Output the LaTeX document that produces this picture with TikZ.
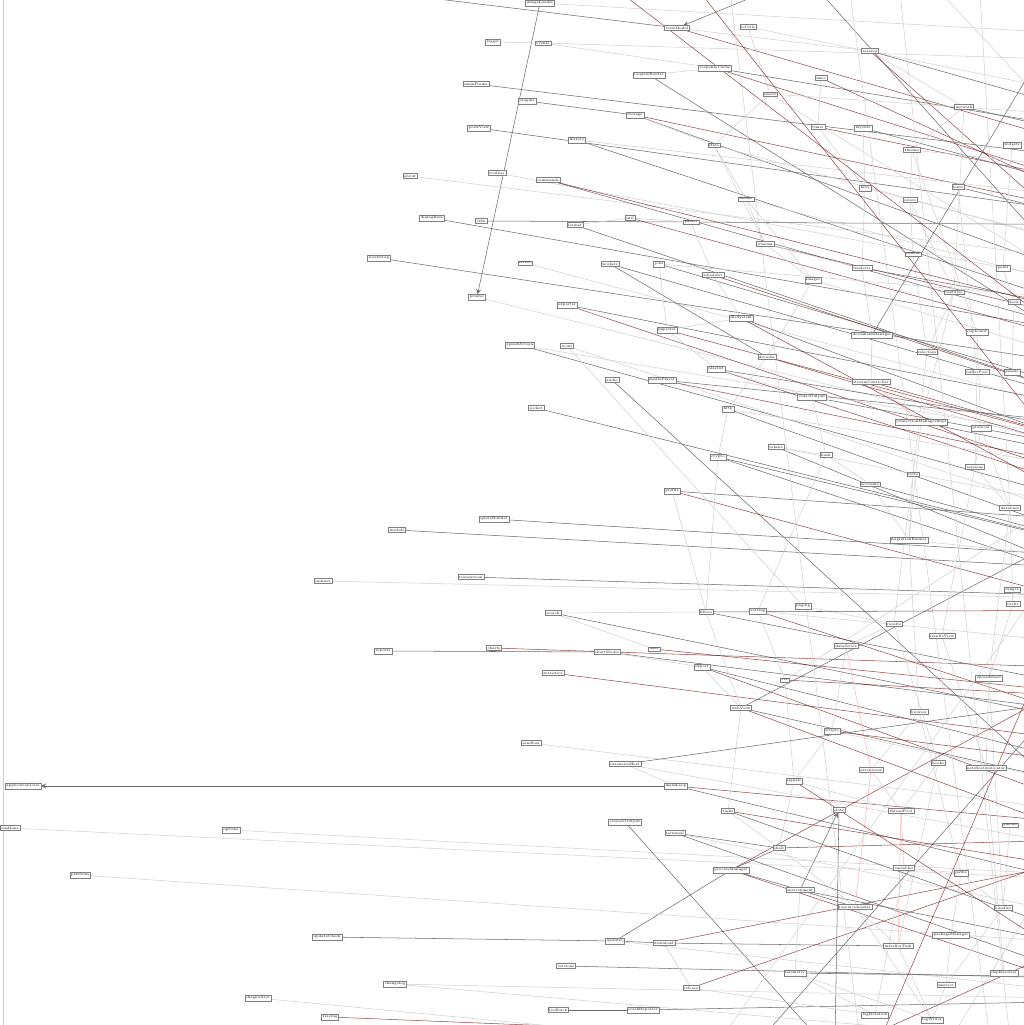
\documentclass[tikz,border=0pt]{standalone}
\usepackage{tikz}
\usetikzlibrary{backgrounds}
\tikzset{
  % node style (one box per module)
  modbox/.style={draw=black!50,line width=0.15pt,fill=white,inner sep=0.7pt,
    font=\fontsize{2}{2.4}\selectfont},
  % edge styles
  lite/.style={draw=black!18,line width=0.3pt},
  dark/.style={draw=black!58,line width=0.3pt},
  redd/.style={draw=red!40!black,opacity=0.7,line width=0.3pt},
  pink/.style={draw=red!30,line width=0.3pt},
}

\begin{document}
\begin{tikzpicture}[x=0.02cm,y=-0.02cm,>=stealth]
  \useasboundingbox (0,0) rectangle (1024,1025);
  % modules
  \node[modbox] (v1) at (540,3) {imageLoader};
  \node[modbox] (v2) at (677,28) {viewModel};
  \node[modbox] (v3) at (748,27) {ioUtils};
  \node[modbox] (v4) at (493,42) {logger};
  \node[modbox] (v5) at (543,43) {events};
  \node[modbox] (v6) at (870,51) {session};
  \node[modbox] (v7) at (649,75) {requestRouter};
  \node[modbox] (v8) at (715,68) {responseCache};
  \node[modbox] (v9) at (821,78) {misc};
  \node[modbox] (v10) at (476,84) {mainFrame};
  \node[modbox] (v11) at (527,101) {plugins};
  \node[modbox] (v12) at (770,94) {assets};
  \node[modbox] (v13) at (635,115) {storage};
  \node[modbox] (v14) at (964,107) {network};
  \node[modbox] (v15) at (479,128) {prefsView};
  \node[modbox] (v16) at (577,140) {history};
  \node[modbox] (v17) at (714,145) {state};
  \node[modbox] (v18) at (818,127) {timer};
  \node[modbox] (v19) at (863,128) {layouts};
  \node[modbox] (v20) at (912,150) {themes};
  \node[modbox] (v21) at (497,173) {toolbar};
  \node[modbox] (v22) at (410,176) {about};
  \node[modbox] (v23) at (548,180) {commands};
  \node[modbox] (v24) at (865,188) {keys};
  \node[modbox] (v25) at (958,187) {fonts};
  \node[modbox] (v26) at (910,200) {colors};
  \node[modbox] (v27) at (746,199) {menus};
  \node[modbox] (v28) at (432,218) {dialogBase};
  \node[modbox] (v29) at (481,221) {i18n};
  \node[modbox] (v30) at (630,218) {util};
  \node[modbox] (v31) at (575,225) {format};
  \node[modbox] (v32) at (691,222) {parser};
  \node[modbox] (v33) at (765,244) {schema};
  \node[modbox] (v34) at (379,258) {bootstrap};
  \node[modbox] (v35) at (525,263) {errors};
  \node[modbox] (v36) at (610,264) {workers};
  \node[modbox] (v37) at (659,264) {jobs};
  \node[modbox] (v38) at (713,275) {scheduler};
  \node[modbox] (v39) at (862,268) {renderer};
  \node[modbox] (v40) at (913,254) {canvas};
  \node[modbox] (v41) at (1003,268) {paint};
  \node[modbox] (v42) at (813,280) {images};
  \node[modbox] (v43) at (954,292) {textures};
  \node[modbox] (v44) at (477,297) {printer};
  \node[modbox] (v45) at (567,305) {exporter};
  \node[modbox] (v46) at (667,330) {importer};
  \node[modbox] (v47) at (741,318) {fileSystem};
  \node[modbox] (v48) at (872,335) {documentManager};
  \node[modbox] (v49) at (977,332) {clipboard};
  \node[modbox] (v50) at (927,352) {selection};
  \node[modbox] (v51) at (520,345) {splashScreen};
  \node[modbox] (v52) at (567,346) {icons};
  \node[modbox] (v53) at (612,380) {audio};
  \node[modbox] (v54) at (662,380) {mediaPlayer};
  \node[modbox] (v55) at (716,369) {playlist};
  \node[modbox] (v56) at (767,357) {decoder};
  \node[modbox] (v57) at (871,382) {streamController};
  \node[modbox] (v58) at (977,372) {bufferPool};
  \node[modbox] (v59) at (812,397) {videoOutput};
  \node[modbox] (v60) at (536,408) {socket};
  \node[modbox] (v61) at (728,409) {http};
  \node[modbox] (v62) at (921,422) {connectionManagerImpl};
  \node[modbox] (v63) at (981,428) {protocol};
  \node[modbox] (v64) at (776,447) {tokens};
  \node[modbox] (v65) at (718,457) {crypto};
  \node[modbox] (v66) at (826,455) {hash};
  \node[modbox] (v67) at (913,474) {certs};
  \node[modbox] (v68) at (975,467) {sessions};
  \node[modbox] (v69) at (870,484) {accounts};
  \node[modbox] (v70) at (672,491) {profile};
  \node[modbox] (v71) at (1010,508) {database};
  \node[modbox] (v72) at (494,519) {queryBuilder};
  \node[modbox] (v73) at (397,530) {models};
  \node[modbox] (v74) at (909,540) {migrationRunner};
  \node[modbox] (v75) at (471,577) {transaction};
  \node[modbox] (v76) at (323,581) {indexer};
  \node[modbox] (v77) at (553,613) {search};
  \node[modbox] (v78) at (706,612) {filters};
  \node[modbox] (v79) at (758,611) {sorting};
  \node[modbox] (v80) at (803,606) {paging};
  \node[modbox] (v81) at (894,624) {results};
  \node[modbox] (v82) at (942,636) {resultsView};
  \node[modbox] (v83) at (1013,604) {cache};
  \node[modbox] (v84) at (383,651) {reports};
  \node[modbox] (v85) at (494,648) {charts};
  \node[modbox] (v86) at (607,652) {chartModel};
  \node[modbox] (v87) at (654,649) {axes};
  \node[modbox] (v88) at (846,646) {dataSeries};
  \node[modbox] (v89) at (553,673) {statistics};
  \node[modbox] (v90) at (702,667) {export};
  \node[modbox] (v91) at (785,680) {csv};
  \node[modbox] (v92) at (989,678) {spreadsheet};
  \node[modbox] (v93) at (741,708) {webView};
  \node[modbox] (v94) at (919,712) {browser};
  \node[modbox] (v95) at (832,731) {scripts};
  \node[modbox] (v96) at (531,743) {sandbox};
  \node[modbox] (v97) at (625,764) {extensionHost};
  \node[modbox] (v98) at (871,770) {extensions};
  \node[modbox] (v99) at (938,763) {hooks};
  \node[modbox] (v100) at (986,768) {notificationCenter};
  \node[modbox] (v101) at (23,786) {applicationCore};
  \node[modbox] (v102) at (676,786) {mainLoop};
  \node[modbox] (v103) at (794,781) {signals};
  \node[modbox] (v104) at (839,810) {slots};
  \node[modbox] (v105) at (728,811) {tasks};
  \node[modbox] (v106) at (901,811) {threadPool};
  \node[modbox] (v107) at (10,828) {cmdLine};
  \node[modbox] (v108) at (231,830) {options};
  \node[modbox] (v109) at (625,822) {consoleOutput};
  \node[modbox] (v110) at (675,833) {terminal};
  \node[modbox] (v111) at (779,848) {shell};
  \node[modbox] (v112) at (731,870) {processManager};
  \node[modbox] (v113) at (80,875) {platform};
  \node[modbox] (v114) at (800,890) {environment};
  \node[modbox] (v115) at (904,868) {variables};
  \node[modbox] (v116) at (961,873) {paths};
  \node[modbox] (v117) at (855,907) {resourceLoader};
  \node[modbox] (v118) at (1003,908) {bundles};
  \node[modbox] (v119) at (327,937) {updateCheck};
  \node[modbox] (v120) at (615,941) {updater};
  \node[modbox] (v121) at (664,943) {download};
  \node[modbox] (v122) at (898,946) {installerTask};
  \node[modbox] (v123) at (951,935) {packageManager};
  \node[modbox] (v124) at (1004,973) {depResolver};
  \node[modbox] (v125) at (566,966) {versions};
  \node[modbox] (v126) at (395,984) {changelog};
  \node[modbox] (v127) at (691,988) {release};
  \node[modbox] (v128) at (795,973) {telemetry};
  \node[modbox] (v129) at (946,985) {metrics};
  \node[modbox] (v130) at (558,1010) {feedback};
  \node[modbox] (v131) at (643,1010) {crashReporter};
  \node[modbox] (v132) at (258,998) {diagnostics};
  \node[modbox] (v133) at (330,1017) {tracing};
  \node[modbox] (v134) at (932,1020) {logWriter};
  \node[modbox] (v135) at (875,1015) {logRotation};
  \node[modbox] (v136) at (1012,145) {widgets};
  \node[modbox] (v137) at (1014,302) {dock};
  \node[modbox] (v138) at (1012,372) {panels};
  \node[modbox] (v139) at (1012,590) {ranges};
  \node[modbox] (v140) at (1010,825) {queues};
  % free ends outside the frame
  \coordinate (t1) at (380,-8);
  \coordinate (t2) at (765,-8);
  \coordinate (t3) at (3,-8);
  \coordinate (t4) at (700,-8);
  \coordinate (t5) at (820,-8);
  \coordinate (t6) at (940,-8);
  \coordinate (t7) at (980,-8);
  \coordinate (t8) at (850,-8);
  \coordinate (t9) at (730,-8);
  \coordinate (t10) at (900,-8);
  \coordinate (t11) at (620,-8);
  \coordinate (b1) at (3,1040);
  \coordinate (b2) at (835,1040);
  \coordinate (b3) at (820,1040);
  \coordinate (b4) at (700,1040);
  \coordinate (b5) at (560,1040);
  \coordinate (b6) at (880,1040);
  \coordinate (b7) at (760,1040);
  \coordinate (b8) at (950,1040);
  \coordinate (b9) at (990,1040);
  \coordinate (b10) at (860,1040);
  \coordinate (b11) at (720,1040);
  \coordinate (b12) at (1010,1040);
  \coordinate (r1) at (1150,38);
  \coordinate (r2) at (1150,165);
  \coordinate (r3) at (1150,62);
  \coordinate (r4) at (1150,108);
  \coordinate (r5) at (1150,130);
  \coordinate (r6) at (1150,300);
  \coordinate (r7) at (1150,390);
  \coordinate (r8) at (1150,140);
  \coordinate (r9) at (1150,205);
  \coordinate (r10) at (1150,230);
  \coordinate (r11) at (1150,166);
  \coordinate (r12) at (1150,225);
  \coordinate (r13) at (1150,120);
  \coordinate (r14) at (1150,330);
  \coordinate (r15) at (1150,150);
  \coordinate (r16) at (1150,222);
  \coordinate (r17) at (1150,265);
  \coordinate (r18) at (1150,195);
  \coordinate (r19) at (1150,175);
  \coordinate (r20) at (1150,295);
  \coordinate (r21) at (1150,268);
  \coordinate (r22) at (1150,350);
  \coordinate (r23) at (1150,262);
  \coordinate (r24) at (1150,235);
  \coordinate (r25) at (1150,305);
  \coordinate (r26) at (1150,345);
  \coordinate (r27) at (1150,335);
  \coordinate (r28) at (1150,375);
  \coordinate (r29) at (1150,430);
  \coordinate (r30) at (1150,420);
  \coordinate (r31) at (1150,320);
  \coordinate (r32) at (1150,380);
  \coordinate (r33) at (1150,465);
  \coordinate (r34) at (1150,460);
  \coordinate (r35) at (1150,470);
  \coordinate (r36) at (1060,23);
  \coordinate (r37) at (1150,450);
  \coordinate (r38) at (1150,540);
  \coordinate (r39) at (1150,480);
  \coordinate (r40) at (1150,440);
  \coordinate (r41) at (1150,560);
  \coordinate (r42) at (1150,520);
  \coordinate (r43) at (1150,600);
  \coordinate (r44) at (1150,525);
  \coordinate (r45) at (1150,572);
  \coordinate (r46) at (1150,565);
  \coordinate (r47) at (1150,598);
  \coordinate (r48) at (1150,735);
  \coordinate (r49) at (1150,700);
  \coordinate (r50) at (1150,650);
  \coordinate (r51) at (1150,720);
  \coordinate (r52) at (1150,670);
  \coordinate (r53) at (1150,780);
  \coordinate (r54) at (1060,500);
  \coordinate (r55) at (1150,800);
  \coordinate (r56) at (1150,820);
  \coordinate (r57) at (1150,860);
  \coordinate (r58) at (1150,830);
  \coordinate (r59) at (1150,883);
  \coordinate (r60) at (1150,879);
  \coordinate (r61) at (1150,930);
  \coordinate (r62) at (1150,1010);
  \coordinate (r63) at (1150,948);
  \coordinate (r64) at (1150,960);
  \coordinate (r65) at (1150,1000);
  \coordinate (r66) at (1060,865);
  \coordinate (r67) at (1150,980);
  \coordinate (r68) at (1150,1050);
  \coordinate (r69) at (1060,860);
  \coordinate (r70) at (1150,978);
  \coordinate (r71) at (1150,1035);
  \coordinate (r72) at (1060,450);
  \coordinate (r73) at (1060,260);
  \coordinate (r74) at (1060,120);
  \coordinate (r75) at (1060,620);
  \coordinate (r76) at (1060,700);
  \coordinate (r77) at (1060,860);
  \coordinate (r78) at (1060,760);
  \coordinate (r79) at (1150,610);
  \coordinate (r80) at (1150,690);
  \coordinate (r81) at (1060,790);
  \coordinate (r82) at (1150,750);
  \coordinate (r83) at (1150,838);
  \coordinate (r84) at (1150,1000);
  \coordinate (r85) at (1060,330);
  \coordinate (r86) at (1060,560);
  \coordinate (r87) at (1060,950);
  \coordinate (r88) at (1150,360);
  \coordinate (r89) at (1150,410);
  \coordinate (r90) at (1150,500);
  \coordinate (r91) at (1150,510);
  \coordinate (r92) at (1150,620);
  \coordinate (r93) at (1150,740);
  \coordinate (r94) at (1150,900);
  \coordinate (r95) at (1150,880);
  \coordinate (r96) at (1060,540);
  \coordinate (r97) at (1060,690);
  \begin{scope}[on background layer]
  \clip (0,0) rectangle (1024,1025);
  % connectors
  \draw[lite] (t3) -- (b1);
  \draw[dark] (t1) -- (v2);
  \draw[dark,->] (t2) -- (v2);
  \draw[dark,->] (v1) -- (v44);
  \draw[lite] (v1) -- (r1);
  \draw[redd] (v2) -- (r2);
  \draw[lite] (v2) -- (v6);
  \draw[lite] (v4) -- (v5);
  \draw[lite] (v5) -- (r3);
  \draw[lite] (v5) -- (v8);
  \draw[lite] (v3) -- (r4);
  \draw[dark] (v6) -- (r5);
  \draw[redd] (v6) -- (r6);
  \draw[lite] (v7) -- (v8);
  \draw[dark] (v7) -- (r7);
  \draw[dark] (v8) -- (r8);
  \draw[redd] (v8) -- (r9);
  \draw[redd] (v9) -- (r10);
  \draw[dark] (v10) -- (r11);
  \draw[dark] (v11) -- (v13);
  \draw[redd] (v13) -- (r12);
  \draw[dark] (v13) -- (r6);
  \draw[lite] (v12) -- (r13);
  \draw[lite] (v12) -- (r14);
  \draw[dark] (v14) -- (r15);
  \draw[dark] (v15) -- (r16);
  \draw[lite] (v16) -- (r9);
  \draw[dark] (v16) -- (r14);
  \draw[lite] (v17) -- (r17);
  \draw[redd] (v18) -- (r18);
  \draw[dark] (v19) -- (r9);
  \draw[lite] (v20) -- (r19);
  \draw[lite] (v21) -- (r20);
  \draw[lite] (v22) -- (r21);
  \draw[dark] (v23) -- (r22);
  \draw[lite] (v24) -- (r23);
  \draw[dark] (v25) -- (r24);
  \draw[lite] (v27) -- (r25);
  \draw[dark] (v28) -- (r26);
  \draw[dark] (v29) -- (v32);
  \draw[dark] (v32) -- (r12);
  \draw[lite] (v30) -- (v32);
  \draw[redd] (v30) -- (r88);
  \draw[lite] (v31) -- (v30);
  \draw[dark] (v31) -- (r30);
  \draw[redd] (v33) -- (r27);
  \draw[dark] (v34) -- (r28);
  \draw[lite] (v35) -- (r29);
  \draw[dark] (v36) -- (v56);
  \draw[lite] (v37) -- (r25);
  \draw[dark] (v37) -- (r89);
  \draw[redd] (v38) -- (r30);
  \draw[dark] (v39) -- (r31);
  \draw[lite] (v42) -- (r32);
  \draw[lite] (v44) -- (r33);
  \draw[dark] (v45) -- (r30);
  \draw[redd] (v45) -- (r90);
  \draw[redd] (v46) -- (r34);
  \draw[lite] (v46) -- (v47);
  \draw[dark] (v47) -- (r35);
  \draw[dark] (v48) -- (r36);
  \draw[lite] (v51) -- (r37);
  \draw[dark] (v51) -- (r42);
  \draw[lite] (v52) -- (r38);
  \draw[dark] (v53) -- (r81);
  \draw[redd] (v54) -- (r39);
  \draw[dark] (v54) -- (r29);
  \draw[dark] (v55) -- (r40);
  \draw[redd] (v55) -- (r91);
  \draw[redd] (v56) -- (r35);
  \draw[redd] (v57) -- (r34);
  \draw[dark] (v59) -- (r34);
  \draw[dark] (v60) -- (r41);
  \draw[lite] (v61) -- (r39);
  \draw[dark] (v61) -- (r41);
  \draw[dark] (v62) -- (r35);
  \draw[lite] (v64) -- (r42);
  \draw[dark] (v64) -- (r43);
  \draw[dark] (v65) -- (r43);
  \draw[dark] (v69) -- (r41);
  \draw[dark] (v70) -- (r44);
  \draw[redd] (v70) -- (r92);
  \draw[dark] (v72) -- (r41);
  \draw[dark] (v73) -- (r45);
  \draw[lite] (v74) -- (r46);
  \draw[dark] (v75) -- (r47);
  \draw[lite] (v76) -- (r43);
  \draw[lite] (v77) -- (v78);
  \draw[lite] (v77) -- (v87);
  \draw[dark] (v77) -- (r48);
  \draw[dark] (v78) -- (r49);
  \draw[lite] (v79) -- (r50);
  \draw[redd] (v79) -- (r93);
  \draw[lite] (v52) -- (v80);
  \draw[dark] (v84) -- (v86);
  \draw[dark] (v86) -- (r51);
  \draw[redd] (v85) -- (r52);
  \draw[redd] (v87) -- (r49);
  \draw[redd] (v89) -- (r82);
  \draw[dark] (v90) -- (r53);
  \draw[redd] (v90) -- (r58);
  \draw[redd] (v91) -- (r49);
  \draw[lite] (v91) -- (r54);
  \draw[dark] (v93) -- (r55);
  \draw[dark] (v93) -- (r96);
  \draw[lite] (v95) -- (r55);
  \draw[lite] (v96) -- (r56);
  \draw[lite] (v97) -- (r57);
  \draw[dark,->] (v102) -- (v101);
  \draw[redd] (v102) -- (r58);
  \draw[dark] (v102) -- (r94);
  \draw[dark] (v104) -- (b2);
  \draw[dark,->] (v114) -- (v104);
  \draw[lite] (v107) -- (r59);
  \draw[lite] (v108) -- (r60);
  \draw[dark] (v109) -- (b3);
  \draw[dark] (v110) -- (v111);
  \draw[lite] (v110) -- (r61);
  \draw[dark] (v110) -- (r65);
  \draw[redd] (v111) -- (r83);
  \draw[dark] (v112) -- (v111);
  \draw[dark] (v112) -- (v120);
  \draw[dark] (v112) -- (v114);
  \draw[dark] (v114) -- (v117);
  \draw[redd] (v112) -- (r62);
  \draw[redd] (v112) -- (r97);
  \draw[lite] (v113) -- (r63);
  \draw[dark] (v114) -- (r64);
  \draw[dark] (v119) -- (v120);
  \draw[dark] (v120) -- (v121);
  \draw[lite] (v120) -- (r65);
  \draw[redd] (v121) -- (r66);
  \draw[dark] (v121) -- (v122);
  \draw[dark] (v125) -- (r67);
  \draw[lite] (v126) -- (r68);
  \draw[lite] (v126) -- (r84);
  \draw[redd] (v127) -- (r69);
  \draw[dark] (v128) -- (r70);
  \draw[lite] (v128) -- (v134);
  \draw[dark] (v130) -- (v131);
  \draw[dark] (v131) -- (r65);
  \draw[lite] (v132) -- (b4);
  \draw[redd] (v133) -- (r68);
  % right-hand cluster
  \draw[lite] (v14) -- (v43);
  \draw[lite] (v20) -- (v49);
  \draw[lite] (v25) -- (v58);
  \draw[lite] (v43) -- (v62);
  \draw[lite] (v49) -- (v63);
  \draw[lite] (v58) -- (v68);
  \draw[lite] (v63) -- (v71);
  \draw[lite] (v68) -- (v82);
  \draw[lite] (v71) -- (v92);
  \draw[lite] (v82) -- (v100);
  \draw[lite] (v92) -- (v118);
  \draw[lite] (v100) -- (v124);
  \draw[lite] (v118) -- (v129);
  \draw[lite] (v62) -- (v74);
  \draw[lite] (v74) -- (v94);
  \draw[lite] (v94) -- (v116);
  \draw[lite] (v116) -- (v123);
  \draw[lite] (v50) -- (v67);
  \draw[lite] (v67) -- (v81);
  \draw[lite] (v81) -- (v99);
  \draw[lite] (v99) -- (v122);
  \draw[lite] (v40) -- (v50);
  \draw[lite] (v26) -- (v40);
  \draw[lite] (v41) -- (v137);
  \draw[lite] (v137) -- (v138);
  \draw[lite] (v136) -- (v41);
  \draw[lite] (v83) -- (v139);
  \draw[lite] (v140) -- (v118);
  \draw[pink] (v48) -- (v57);
  \draw[pink] (v57) -- (v62);
  \draw[pink] (v88) -- (v98);
  \draw[pink] (v98) -- (v117);
  \draw[pink] (v106) -- (v122);
  \draw[lite] (v103) -- (v106);
  \draw[lite] (v105) -- (v111);
  \draw[lite] (v111) -- (v117);
  \draw[lite] (v115) -- (v135);
  \draw[lite] (v117) -- (v134);
  \draw[lite] (v66) -- (v69);
  \draw[lite] (v64) -- (v66);
  \draw[lite] (v59) -- (v66);
  \draw[lite] (v39) -- (v48);
  \draw[lite] (v19) -- (v24);
  \draw[lite] (v24) -- (v39);
  \draw[lite] (v3) -- (v12);
  \draw[lite] (v12) -- (v17);
  \draw[lite] (v17) -- (v27);
  \draw[lite] (v27) -- (v33);
  \draw[lite] (v33) -- (v42);
  \draw[lite] (v42) -- (v56);
  \draw[lite] (v56) -- (v61);
  \draw[lite] (v61) -- (v65);
  \draw[lite] (v65) -- (v78);
  \draw[lite] (v78) -- (v93);
  \draw[lite] (v93) -- (v105);
  \draw[lite] (v9) -- (v18);
  \draw[lite] (v18) -- (v24);
  \draw[lite] (v6) -- (v14);
  \draw[lite] (v14) -- (v20);
  \draw[lite] (v20) -- (v26);
  \draw[lite] (v26) -- (v43);
  \draw[lite] (v43) -- (v50);
  \draw[lite] (v63) -- (v68);
  \draw[lite] (v68) -- (v71);
  \draw[lite] (v71) -- (v83);
  \draw[lite] (v83) -- (v92);
  \draw[lite] (v92) -- (v100);
  \draw[lite] (v81) -- (v88);
  \draw[lite] (v88) -- (v95);
  \draw[lite] (v95) -- (v103);
  \draw[lite] (v103) -- (v111);
  \draw[lite] (v106) -- (v115);
  \draw[lite] (v115) -- (v116);
  \draw[lite] (v116) -- (v118);
  \draw[lite] (v122) -- (v134);
  \draw[lite] (v123) -- (v129);
  \draw[lite] (v129) -- (v134);
  \draw[lite] (v135) -- (v128);
  \draw[lite] (v117) -- (v122);
  \draw[lite] (v114) -- (v128);
  \draw[lite] (v98) -- (v106);
  \draw[lite] (v99) -- (v106);
  \draw[lite] (v94) -- (v98);
  \draw[lite] (v69) -- (v74);
  \draw[lite] (v67) -- (v74);
  \draw[lite] (v66) -- (v79);
  \draw[lite] (v79) -- (v91);
  \draw[lite] (v91) -- (v103);
  \draw[lite] (v80) -- (v81);
  \draw[lite] (v55) -- (v59);
  \draw[lite] (v46) -- (v55);
  \draw[lite] (v38) -- (v47);
  \draw[lite] (v33) -- (v39);
  \draw[lite] (v27) -- (v42);
  \draw[lite] (v17) -- (v33);
  \draw[lite] (v13) -- (v17);
  \draw[lite] (v32) -- (v38);
  \draw[lite] (v37) -- (v46);
  \draw[lite] (v97) -- (v102);
  \draw[lite] (v90) -- (v93);
  \draw[lite] (v70) -- (v78);
  \draw[lite] (v86) -- (v90);
  \draw[lite] (v121) -- (v127);
  \draw[lite] (v127) -- (v135);
  % long lines crossing the frame
  \draw[redd] (t4) -- (r72);
  \draw[dark] (t5) -- (r73);
  \draw[lite] (t6) -- (r74);
  \draw[lite] (t7) -- (v71);
  \draw[lite] (t8) -- (b9);
  \draw[lite] (t9) -- (b10);
  \draw[lite] (t10) -- (b12);
  \draw[redd] (t11) -- (r85);
  \draw[redd] (b6) -- (r75);
  \draw[dark] (b7) -- (r76);
  \draw[lite] (b8) -- (r77);
  \draw[lite] (b11) -- (r86);
  \draw[redd] (b10) -- (r87);
  \draw[redd] (v95) -- (r78);
  \draw[redd] (v78) -- (r79);
  \draw[dark] (v97) -- (r80);
  \draw[redd] (v103) -- (r62);
  \draw[dark] (v105) -- (r64);
  \draw[redd] (v105) -- (r95);
  \draw[redd] (v93) -- (r57);
  \draw[dark] (v65) -- (r41);
  \draw[redd] (v47) -- (r38);
  \draw[dark] (v36) -- (r30);
  \draw[redd] (v23) -- (r14);
  \end{scope}
\end{tikzpicture}
\end{document}
